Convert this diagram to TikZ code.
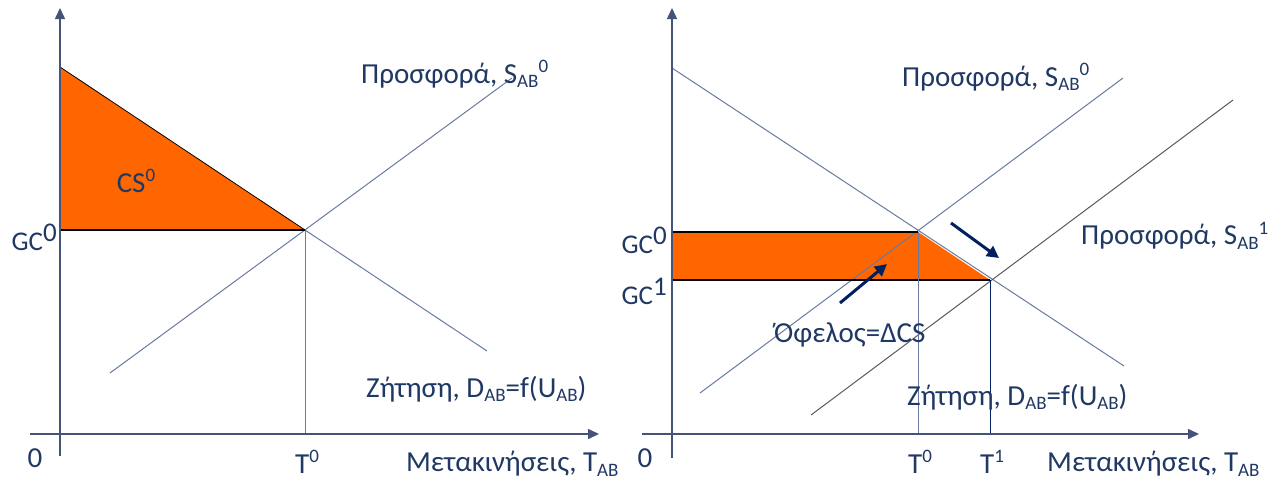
\documentclass[tikz,border=0pt]{standalone}
\usepackage{fontspec}
\setmainfont{Carlito}
\usetikzlibrary{arrows.meta}
\definecolor{txt}{RGB}{32,56,100}
\definecolor{curve}{RGB}{105,122,160}
\definecolor{axiscol}{RGB}{68,84,120}
\definecolor{darkline}{RGB}{90,90,90}
\definecolor{orng}{RGB}{255,102,0}
\definecolor{navy}{RGB}{0,32,96}
\newcommand{\lsub}[1]{\raisebox{-0.3ex}{\fontsize{19}{19}\selectfont #1}}
\newcommand{\lsup}[1]{\raisebox{0.75ex}{\fontsize{19}{19}\selectfont #1}}
\newcommand{\bsup}[1]{\raisebox{0.7ex}{#1}}
\tikzset{
  lbl/.style={text=txt, font=\fontsize{29}{31}\selectfont, inner sep=0pt},
  gclbl/.style={text=txt, font=\fontsize{27}{29}\selectfont, inner sep=0pt},
  axis/.style={draw=axiscol, line width=1.5pt, -{Triangle[length=11pt,width=10pt]}},
  curveline/.style={draw=curve, line width=1pt},
  shifted/.style={draw=darkline, line width=1pt},
  blackline/.style={draw=black, line width=1.2pt},
  shiftarrow/.style={draw=navy, line width=3pt, -{Triangle[length=12pt,width=12pt]}},
}
\begin{document}
\begin{tikzpicture}[x=1pt,y=-1pt]
\useasboundingbox (0,0) rectangle (1280,482);
% ---------- left panel ----------
\coordinate (lyb) at (60,456);
\coordinate (lyt) at (60,8);
\coordinate (lxl) at (30,434);
\coordinate (lxr) at (599,434);
\coordinate (la) at (60,67);
\coordinate (lg) at (60,230);
\coordinate (le) at (305,230);
\coordinate (lt) at (305,434);
\coordinate (ld) at (487,351);
\coordinate (ls1) at (110,373);
\coordinate (ls2) at (512,78);
\fill[orng] (la) -- (le) -- (lg) -- cycle;
\draw[curveline] (le) -- (ld);
\draw[curveline] (ls1) -- (ls2);
\draw[draw=black, line width=0.8pt] (la) -- (le);
\draw[blackline] (lg) -- (le);
\draw[curveline] (le) -- (lt);
\draw[axis] (lyb) -- (lyt);
\draw[axis] (lxl) -- (lxr);
\node[gclbl, anchor=east] (lgc) at (57,237) {GC\bsup{0}};
\node[lbl] (lcs) at (136,181) {CS\lsup{0}};
\node[lbl, anchor=west] (lsup) at (361,74) {Προσφορά, S\lsub{AB}\lsup{0}};
\node[lbl, anchor=west] (ldem) at (366,389) {Ζήτηση, D\lsub{AB}=f(U\lsub{AB})};
\node[lbl] (lz) at (35,458) {0};
\node[lbl] (lt0) at (307,462) {T\lsup{0}};
\node[lbl, anchor=west] (lmet) at (406,464) {Μετακινήσεις, T\lsub{AB}};
% ---------- right panel ----------
\coordinate (ryb) at (672,458);
\coordinate (ryt) at (672,8);
\coordinate (rxl) at (642,434);
\coordinate (rxr) at (1199,434);
\coordinate (ra) at (672,68);
\coordinate (rd) at (1124,366);
\coordinate (rs01) at (700,393);
\coordinate (rs02) at (1123,78);
\coordinate (rs11) at (811,415);
\coordinate (rs12) at (1233,100);
\coordinate (re0) at (918,232);
\coordinate (re1) at (990,280);
\coordinate (rg0) at (672,232);
\coordinate (rg1) at (672,280);
\coordinate (rt0) at (918,434);
\coordinate (rt1) at (990,434);
\coordinate (ar1s) at (840,303);
\coordinate (ar1e) at (887,264);
\coordinate (ar2s) at (951,223);
\coordinate (ar2e) at (999,258);
\fill[orng] (rg0) -- (re0) -- (re1) -- (rg1) -- cycle;
\draw[curveline] (ra) -- (rd);
\draw[curveline] (rs01) -- (rs02);
\draw[shifted] (rs11) -- (rs12);
\draw[blackline] (rg0) -- (re0);
\draw[blackline] (rg1) -- (re1);
\draw[curveline] (re0) -- (rt0);
\draw[draw=navy, line width=1pt] (re1) -- (rt1);
\draw[axis] (ryb) -- (ryt);
\draw[axis] (rxl) -- (rxr);
\draw[shiftarrow] (ar1s) -- (ar1e);
\draw[shiftarrow] (ar2s) -- (ar2e);
\node[gclbl, anchor=east] (rgc0) at (667,240) {GC\bsup{0}};
\node[gclbl, anchor=east] (rgc1) at (667,291) {GC\bsup{1}};
\node[lbl, anchor=west] (rsup0) at (902,77) {Προσφορά, S\lsub{AB}\lsup{0}};
\node[lbl, anchor=west] (rsup1) at (1081,236) {Προσφορά, S\lsub{AB}\lsup{1}};
\node[lbl, anchor=west] (rben) at (774,335) {Όφελος=ΔCS};
\node[lbl, anchor=west] (rdem) at (907,397) {Ζήτηση, D\lsub{AB}=f(U\lsub{AB})};
\node[lbl] (rz) at (645,458) {0};
\node[lbl] (rt0l) at (920,462) {T\lsup{0}};
\node[lbl] (rt1l) at (992,462) {T\lsup{1}};
\node[lbl, anchor=west] (rmet) at (1047,464) {Μετακινήσεις, T\lsub{AB}};
\end{tikzpicture}
\end{document}
